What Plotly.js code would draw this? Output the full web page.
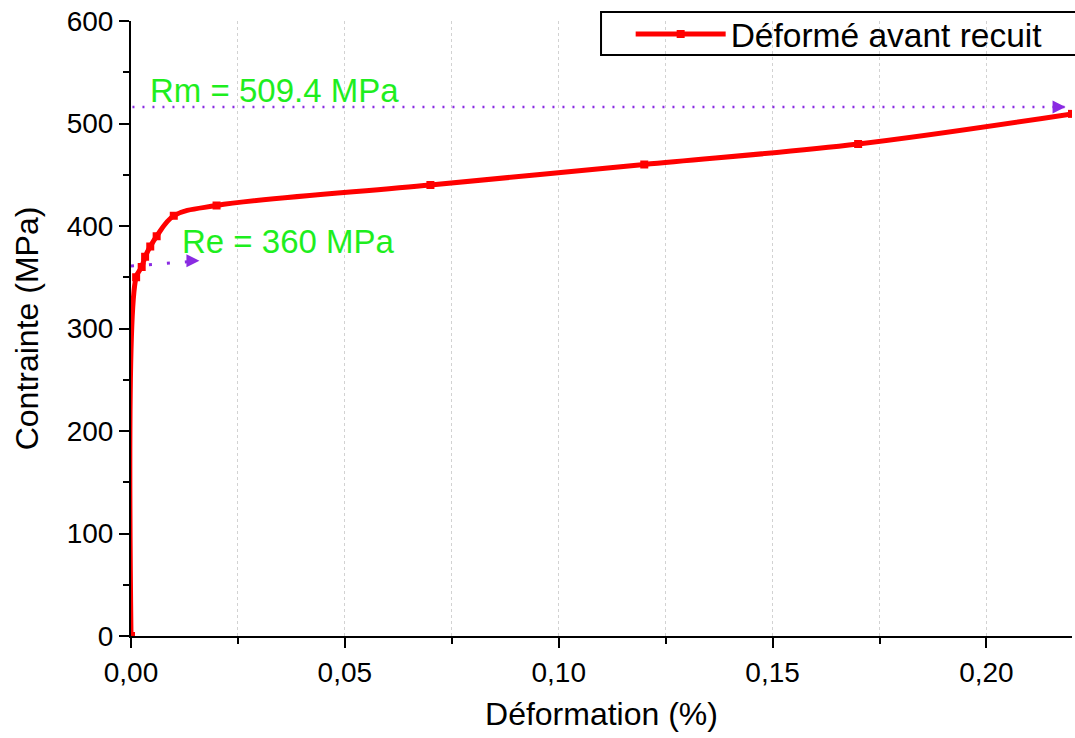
<!DOCTYPE html>
<html>
<head>
<meta charset="utf-8">
<script src="https://cdn.plot.ly/plotly-3.0.1.min.js"></script>
<style>html,body{margin:0;padding:0;background:#fff;}#chart{width:1075px;height:738px;}</style>
</head>
<body>
<div id="chart"></div>
<script>
const seriesName = "Déformé avant recuit";
const strain = [0, 0.0012, 0.0025, 0.0033, 0.0045, 0.006, 0.01, 0.02, 0.07, 0.12, 0.17, 0.22];
const stress = [0, 350, 360, 370, 380, 390, 410, 420, 440, 460, 480, 509.4];
const rmLabel = "Rm = 509.4 MPa";
const rmLine = {x: [-0.002, 0.2185], y: [516, 516]};
const reLabel = "Re = 360 MPa";
const reLine = {x: [0, 0.016], y: [361, 366]};
const purple = "#8a2be2";
const green = "#1eee1e";

const trace = {
  x: strain, y: stress, name: seriesName, type: "scatter", mode: "lines+markers",
  line: {color: "#ff0000", width: 5, shape: "spline", smoothing: 1},
  marker: {symbol: "square", size: 8, color: "#ff0000"}
};

const layout = {
  width: 1075, height: 738,
  margin: {l: 131, r: 3, t: 21, b: 102},
  paper_bgcolor: "#fff", plot_bgcolor: "#fff",
  font: {family: "Liberation Sans, Arial, sans-serif", color: "#000"},
  separators: ",.",
  showlegend: true,
  legend: {
    x: 0.531, xanchor: "left", y: 1.025, yanchor: "top",
    borderwidth: 0, bgcolor: "rgba(0,0,0,0)",
    font: {size: 33.5, color: "#000"}, itemwidth: 90
  },
  xaxis: {
    range: [0, 0.22], dtick: 0.05, tick0: 0, tickformat: ".2f",
    showline: true, linecolor: "#000", linewidth: 2,
    ticks: "outside", ticklen: 10, tickwidth: 2, tickcolor: "#000",
    tickfont: {size: 28},
    showgrid: true, gridcolor: "#d2d2d2", griddash: "dot", gridwidth: 1,
    zeroline: false,
    minor: {dtick: 0.025, ticks: "outside", ticklen: 6, tickwidth: 2, tickcolor: "#000", showgrid: true, gridcolor: "#d2d2d2", griddash: "dot"},
    title: {text: "Déformation (%)", font: {size: 32}, standoff: 16}
  },
  yaxis: {
    range: [0, 600], dtick: 100, tick0: 0,
    showline: true, linecolor: "#000", linewidth: 2,
    ticks: "outside", ticklen: 10, tickwidth: 2, tickcolor: "#000",
    tickfont: {size: 28},
    showgrid: false, zeroline: false,
    minor: {dtick: 50, ticks: "outside", ticklen: 6, tickwidth: 2, tickcolor: "#000", showgrid: false},
    title: {text: "Contrainte (MPa)", font: {size: 32}, standoff: 18}
  },
  shapes: [
    {type: "rect", xref: "paper", yref: "paper", x0: 0.4995, x1: 1.01, y0: 0.9447, y1: 1.0146,
     line: {color: "#000", width: 2}, fillcolor: "rgba(0,0,0,0)", layer: "above"},
    {type: "line", xref: "x", yref: "y", x0: rmLine.x[0], x1: rmLine.x[1], y0: rmLine.y[0], y1: rmLine.y[1],
     line: {color: purple, width: 2.5, dash: "2px,8px"}},
    {type: "line", xref: "x", yref: "y", x0: reLine.x[0], x1: reLine.x[1], y0: reLine.y[0], y1: reLine.y[1],
     line: {color: purple, width: 3, dash: "3px,15px"}}
  ],
  annotations: [
    {x: rmLine.x[1], y: rmLine.y[1], ax: -12, ay: 0, xref: "x", yref: "y",
     showarrow: true, arrowhead: 2, arrowsize: 1.3, arrowwidth: 2, arrowcolor: purple, text: ""},
    {x: reLine.x[1], y: reLine.y[1], ax: -12, ay: 0, xref: "x", yref: "y",
     showarrow: true, arrowhead: 2, arrowsize: 1.3, arrowwidth: 2, arrowcolor: purple, text: ""},
    {x: 0.004, y: 532, xref: "x", yref: "y", xanchor: "left", yanchor: "middle", showarrow: false,
     text: rmLabel, font: {size: 33, color: green}},
    {x: 0.0115, y: 385, xref: "x", yref: "y", xanchor: "left", yanchor: "middle", showarrow: false,
     text: reLabel, font: {size: 33, color: green}}
  ]
};

Plotly.newPlot("chart", [trace], layout, {displayModeBar: false, staticPlot: true});
</script>
</body>
</html>
